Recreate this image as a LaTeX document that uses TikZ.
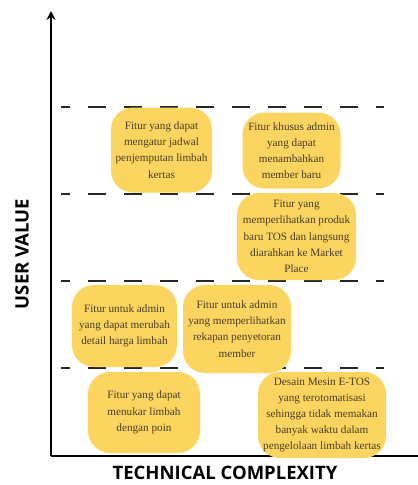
\documentclass[tikz,border=0pt]{standalone}
\usepackage{fontspec}
\setmainfont{Liberation Serif}
\newfontfamily\labelfont{Open Sans}
\usetikzlibrary{arrows.meta}
\definecolor{featyellow}{RGB}{251,213,96}
\definecolor{feattext}{RGB}{72,60,38}
\tikzset{
	feature/.style={fill=featyellow, rounded corners=22pt, align=center, text=feattext,
		font=\fontsize{11.2}{16.2}\selectfont, inner sep=1pt},
	level/.style={line width=2.2pt, dash pattern=on 18pt off 18pt, dash phase=9pt, black!85},
	axislabel/.style={font=\labelfont\bfseries\fontsize{18.5}{21}\selectfont, inner sep=0pt}
}
\begin{document}
\begin{tikzpicture}[x=1pt, y=-1pt]
		\useasboundingbox (0, 0) rectangle (418, 485);

		% levels
		\foreach \y in {107, 194, 281, 368} {
			\draw[level] (61, \y) -- (384, \y);
		}

		% axes
		\coordinate (origin) at (51, 456);
		\coordinate (ytop) at (51, 11);
		\coordinate (xend) at (418, 456);
		\draw[line width=2pt, -{Stealth[length=9pt, width=9pt]}] (origin) -- (ytop);
		\draw[line width=2pt] (origin) -- (xend);

		\node[axislabel, rotate=90] (uv) at (22, 254) {USER VALUE};
		\node[axislabel, anchor=base] (tc) at (225, 479.5) {TECHNICAL COMPLEXITY};

		% high value
		\node[feature, minimum width=101pt, minimum height=85pt] (jadwal) at (161.5, 150) {Fitur yang dapat\\mengatur jadwal\\penjemputan limbah\\kertas};
		\node[feature, minimum width=98pt, minimum height=76pt] (member) at (291.5, 150.5) {Fitur khusus admin\\yang dapat\\menambahkan\\member baru};

		% upper middle
		\node[feature, minimum width=119pt, minimum height=87pt] (produk) at (296.5, 236.5) {Fitur yang\\memperlihatkan produk\\baru TOS dan langsung\\diarahkan ke Market\\Place};

		% lower middle
		\node[feature, minimum width=105pt, minimum height=82pt] (harga) at (124.5, 326) {Fitur untuk admin\\yang dapat merubah\\detail harga limbah};
		\node[feature, minimum width=108pt, minimum height=88pt] (rekap) at (237, 329) {Fitur untuk admin\\yang memperlihatkan\\rekapan penyetoran\\member};

		% low value
		\node[feature, minimum width=112pt, minimum height=81pt] (poin) at (144, 412.5) {Fitur yang dapat\\menukar limbah\\dengan poin};
		\node[feature, minimum width=128pt, minimum height=86pt] (mesin) at (322, 415) {Desain Mesin E-TOS\\yang terotomatisasi\\sehingga tidak memakan\\banyak waktu dalam\\pengelolaan limbah kertas};
	\end{tikzpicture}
\end{document}
